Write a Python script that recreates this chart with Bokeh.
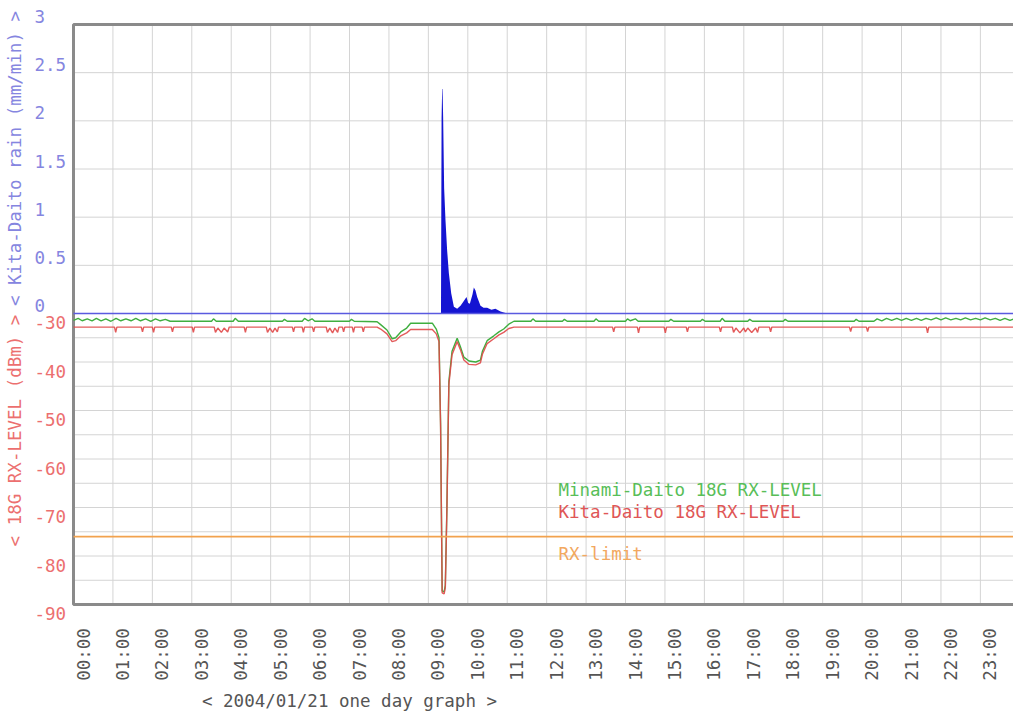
import math
from bokeh.plotting import figure
from bokeh.models import Range1d
from bokeh.core.properties import value
from bokeh.embed import file_html
from bokeh.resources import INLINE

# ---------------- data ----------------
hours = list(range(24))
hour_labels = [f"{h:02d}:00" for h in hours]

rain_ticks = [0, 0.5, 1, 1.5, 2, 2.5, 3]
rain_tick_labels = ["0", "0.5", "1", "1.5", "2", "2.5", "3"]
rain_grid = [0.5, 1, 1.5, 2, 2.5]

db_ticks = [-30, -40, -50, -60, -70, -80, -90]
db_tick_labels = ["-30", "-40", "-50", "-60", "-70", "-80", "-90"]
db_grid = [-35, -40, -45, -50, -55, -60, -65, -70, -75, -80, -85]

# Kita-Daito rain (mm/min)
rain_time = [0.0, 9.32, 9.335, 9.35, 9.36, 9.375, 9.40, 9.434, 9.477, 9.519, 9.579,
             9.647, 9.73, 9.815, 9.899, 9.967, 10.01, 10.052, 10.12, 10.153, 10.195,
             10.238, 10.322, 10.40, 10.49, 10.60, 10.70, 10.83, 11.0, 24.0]
rain_mm = [0.0, 0.0, 2.03, 2.33, 2.33, 2.03, 1.30, 0.97, 0.65, 0.42, 0.21,
           0.07, 0.05, 0.08, 0.13, 0.17, 0.11, 0.10, 0.20, 0.27, 0.24,
           0.17, 0.08, 0.06, 0.06, 0.04, 0.05, 0.02, 0.0, 0.0]

# Minami-Daito 18G RX-LEVEL (dBm)
minami_time = [0.00, 0.12, 0.22, 0.35, 0.47, 0.58, 0.70, 0.82, 0.95, 1.08, 1.20, 1.33,
               1.46, 1.58, 1.70, 1.83, 1.96, 2.08, 2.20, 2.33, 2.45, 2.60, 3.00, 3.50,
               3.55, 3.62, 4.05, 4.10, 4.18, 4.60, 5.30, 5.35, 5.42, 5.80, 5.86, 5.95,
               6.05, 6.12, 7.00, 7.05, 7.12, 7.70, 7.79, 7.95, 8.08, 8.17, 8.30, 8.45,
               8.55, 9.10, 9.20, 9.27, 9.31, 9.35, 9.40, 9.43, 9.47, 9.52, 9.60, 9.73,
               9.81, 9.90, 10.03, 10.20, 10.32, 10.37, 10.49, 10.66, 10.79, 10.91, 11.04,
               11.17, 11.60, 11.65, 11.72, 12.40, 12.45, 12.52, 13.20, 13.25, 13.32,
               14.00, 14.05, 14.12, 14.25, 14.32, 15.10, 15.15, 15.22, 15.90, 15.95,
               16.02, 16.40, 16.45, 16.52, 17.10, 17.15, 17.22, 18.00, 18.05, 18.12,
               19.20, 19.80, 19.85, 19.92, 20.30, 20.38, 20.50, 20.62, 20.75, 20.88,
               21.00, 21.12, 21.25, 21.38, 21.50, 21.62, 21.75, 21.88, 22.00, 22.12,
               22.25, 22.38, 22.50, 22.62, 22.75, 22.88, 23.00, 23.12, 23.25, 23.38,
               23.50, 23.62, 23.75, 23.88, 24.00]
minami_dbm = [-31.4, -31.0, -31.5, -31.1, -31.5, -31.0, -31.5, -31.1, -31.6, -31.0, -31.5, -31.1,
              -31.5, -31.0, -31.5, -31.1, -31.6, -31.1, -31.5, -31.2, -31.6, -31.6, -31.6, -31.6,
              -31.1, -31.6, -31.6, -31.0, -31.6, -31.6, -31.6, -31.2, -31.6, -31.6, -31.0, -31.5,
              -31.1, -31.6, -31.6, -31.2, -31.6, -31.7, -32.3, -33.4, -35.2, -35.0, -33.8, -33.0,
              -32.0, -32.0, -33.2, -35.0, -52.8, -87.2, -87.4, -86.0, -70.0, -44.0, -37.8, -35.1,
              -36.8, -39.0, -39.8, -40.0, -39.6, -37.8, -35.6, -34.6, -33.8, -33.2, -32.2,
              -31.6, -31.6, -31.1, -31.6, -31.6, -31.2, -31.6, -31.6, -31.1, -31.6,
              -31.6, -31.1, -31.5, -31.1, -31.6, -31.6, -31.2, -31.6, -31.6, -31.2,
              -31.6, -31.6, -31.0, -31.6, -31.6, -31.2, -31.6, -31.6, -31.2, -31.6,
              -31.6, -31.6, -31.2, -31.6, -31.6, -31.1, -31.5, -31.0, -31.4, -31.0,
              -31.4, -31.0, -31.4, -31.0, -31.4, -31.0, -31.3, -30.9, -31.3, -30.9,
              -31.3, -31.0, -31.3, -30.9, -31.3, -31.0, -31.3, -30.9, -31.3, -31.0,
              -31.4, -31.0, -31.4, -31.0, -31.3]

# Kita-Daito 18G RX-LEVEL (dBm)
kita_time = [0.00, 1.04, 1.07, 1.10, 1.72, 1.75, 1.78, 2.00, 2.03, 2.06, 2.48, 2.51, 2.54,
             3.01, 3.04, 3.07, 3.57, 3.60, 3.66, 3.75, 3.82, 3.91, 3.95, 4.33, 4.36, 4.39,
             4.89, 4.92, 4.98, 5.05, 5.11, 5.17, 5.20, 5.55, 5.58, 5.61, 5.80, 5.83, 5.86,
             6.06, 6.09, 6.12, 6.41, 6.44, 6.50, 6.57, 6.63, 6.70, 6.73, 6.82, 6.85, 6.88,
             7.07, 7.10, 7.13, 7.32, 7.35, 7.38, 7.70, 7.79, 7.95, 8.08, 8.17, 8.30, 8.45,
             8.55, 9.10, 9.20, 9.27, 9.31, 9.35, 9.40, 9.43, 9.47, 9.52, 9.60, 9.73, 9.81,
             9.90, 10.03, 10.20, 10.32, 10.37, 10.49, 10.66, 10.79, 10.91, 11.04, 11.17,
             13.67, 13.70, 13.73, 14.30, 14.33, 14.36, 14.98, 15.01, 15.04, 15.54, 15.57,
             15.60, 16.38, 16.41, 16.44, 16.71, 16.74, 16.80, 16.90, 17.00, 17.04, 17.10,
             17.20, 17.30, 17.35, 17.38, 17.65, 17.68, 17.71, 19.68, 19.71, 19.74, 20.11,
             20.14, 20.17, 21.63, 21.66, 21.69, 24.00]
kita_dbm = [-32.8, -32.8, -33.9, -32.8, -32.8, -33.8, -32.8, -32.8, -33.9, -32.8, -32.8, -33.8, -32.8,
            -32.8, -33.9, -32.8, -32.8, -33.9, -33.0, -33.9, -33.0, -33.8, -32.8, -32.8, -33.9, -32.8,
            -32.8, -33.9, -33.0, -33.9, -33.0, -33.8, -32.8, -32.8, -33.8, -32.8, -32.8, -33.9, -32.8,
            -32.8, -33.8, -32.8, -32.8, -33.9, -33.0, -34.0, -33.0, -33.9, -32.8, -32.8, -33.8, -32.8,
            -32.8, -33.9, -32.8, -32.8, -33.8, -32.8, -32.8, -33.2, -34.2, -35.8, -35.6, -34.6, -34.0,
            -33.3, -33.3, -34.2, -35.8, -53.5, -87.6, -87.8, -86.5, -70.5, -44.6, -38.5, -35.8, -37.4,
            -39.6, -40.5, -40.6, -40.2, -38.4, -36.2, -35.2, -34.4, -33.9, -33.1, -32.8,
            -32.8, -33.8, -32.8, -32.8, -34.0, -32.8, -32.8, -34.0, -32.8, -32.8, -33.8,
            -32.8, -32.8, -33.8, -32.8, -32.8, -33.9, -33.0, -34.0, -33.0, -33.8, -33.0,
            -33.9, -33.0, -33.9, -32.8, -32.8, -33.8, -32.8, -32.8, -33.7, -32.8, -32.8,
            -33.7, -32.8, -32.8, -34.0, -32.8, -32.8]

rx_limit_dbm = -76

# ---------------- layout ----------------
W, H = 1013, 715
X0_PX, PX_PER_HOUR = 73, 39.43          # screen x of 00:00, pixels per hour
TOP_PX, ZERO_PX, BOT_PX = 24, 313, 604  # box top, rain 0 / -30 dBm line, box bottom
px_per_db = (BOT_PX - ZERO_PX) / 60.0
px_per_mm = (ZERO_PX - TOP_PX) / 3.0

x_start = -X0_PX / PX_PER_HOUR
x_end = (W - X0_PX) / PX_PER_HOUR
db_bottom = -90 - (H - BOT_PX) / px_per_db
db_top = -30 + ZERO_PX / px_per_db
box_top_db = -30 + (ZERO_PX - TOP_PX) / px_per_db

p = figure(width=W, height=H, output_backend="svg", toolbar_location=None,
           title=None, x_axis_location=None, y_axis_location=None,
           x_range=Range1d(x_start, x_end), y_range=Range1d(db_bottom, db_top),
           min_border=0, outline_line_color=None, background_fill_color="white",
           border_fill_color="white")
p.grid.visible = False
p.extra_y_ranges = {"rain": Range1d(-(H - ZERO_PX) / px_per_mm, ZERO_PX / px_per_mm)}

FONT = value("DejaVu Sans Mono")
FS = "17.5px"
GRID = "#d4d4d4"

# grid
p.segment(x0=hours[1:], x1=hours[1:], y0=-90, y1=box_top_db, line_color=GRID, line_width=1)
p.segment(x0=0, x1=24, y0=db_grid, y1=db_grid, line_color=GRID, line_width=1)
p.segment(x0=0, x1=24, y0=rain_grid, y1=rain_grid, line_color=GRID, line_width=1,
          y_range_name="rain")

# plot box
p.line(x=[24, 0, 0, 24], y=[box_top_db, box_top_db, -90, -90],
       line_color="#8a8a8a", line_width=3)

# rain
p.varea(x=rain_time, y1=0, y2=rain_mm, fill_color="#1414d2", y_range_name="rain")
p.segment(x0=0, x1=24, y0=0, y1=0, line_color="#5a5ae0", line_width=1.5, y_range_name="rain")

# RX levels
p.line(x=minami_time, y=minami_dbm, line_color="#3fae3f", line_width=1.4)
p.line(x=kita_time, y=kita_dbm, line_color="#e04848", line_width=1.4, line_alpha=0.9)
p.segment(x0=0, x1=24, y0=rx_limit_dbm, y1=rx_limit_dbm, line_color="#f2a24e", line_width=1.6)

# y tick labels
label_x = (34 - X0_PX) / PX_PER_HOUR
p.text(x=label_x, y=rain_ticks, text=rain_tick_labels, y_range_name="rain",
       y_offset=-8, text_align="left", text_baseline="middle",
       text_font=FONT, text_font_size=FS, text_color="#8585e0")
p.text(x=label_x, y=db_ticks, text=db_tick_labels, y_offset=9,
       text_align="left", text_baseline="middle",
       text_font=FONT, text_font_size=FS, text_color="#ec6f6f")

# y titles
title_x = (14 - X0_PX) / PX_PER_HOUR
p.text(x=[title_x], y=[(ZERO_PX - 158) / px_per_mm], text=["< Kita-Daito rain (mm/min) >"],
       y_range_name="rain", angle=math.pi / 2, text_align="center", text_baseline="middle",
       text_font=FONT, text_font_size=FS, text_color="#8585e0")
p.text(x=[title_x], y=[-30 - (430 - ZERO_PX) / px_per_db], text=["< 18G RX-LEVEL (dBm) >"],
       angle=math.pi / 2, text_align="center", text_baseline="middle",
       text_font=FONT, text_font_size=FS, text_color="#ec6f6f")

# x tick labels, rotated
shift_h = 10 / PX_PER_HOUR
p.text(x=[h + shift_h for h in hours], y=-90 - (654 - BOT_PX) / px_per_db, text=hour_labels,
       angle=math.pi / 2, text_align="center", text_baseline="middle",
       text_font=FONT, text_font_size=FS, text_color="#555555")

# x title
p.text(x=[(349 - X0_PX) / PX_PER_HOUR], y=[-90 - (700 - BOT_PX) / px_per_db],
       text=["< 2004/01/21 one day graph >"], text_align="center", text_baseline="middle",
       text_font=FONT, text_font_size=FS, text_color="#555555")

# series labels
leg_x = (558 - X0_PX) / PX_PER_HOUR
p.text(x=[leg_x], y=[-30 - (489 - ZERO_PX) / px_per_db], text=["Minami-Daito 18G RX-LEVEL"],
       text_align="left", text_baseline="middle", text_font=FONT, text_font_size=FS,
       text_color="#58be58")
p.text(x=[leg_x], y=[-30 - (511 - ZERO_PX) / px_per_db], text=["Kita-Daito 18G RX-LEVEL"],
       text_align="left", text_baseline="middle", text_font=FONT, text_font_size=FS,
       text_color="#e05656")
p.text(x=[leg_x], y=[-30 - (553 - ZERO_PX) / px_per_db], text=["RX-limit"],
       text_align="left", text_baseline="middle", text_font=FONT, text_font_size=FS,
       text_color="#f2a860")

open("out.html", "w").write(file_html(p, INLINE))
